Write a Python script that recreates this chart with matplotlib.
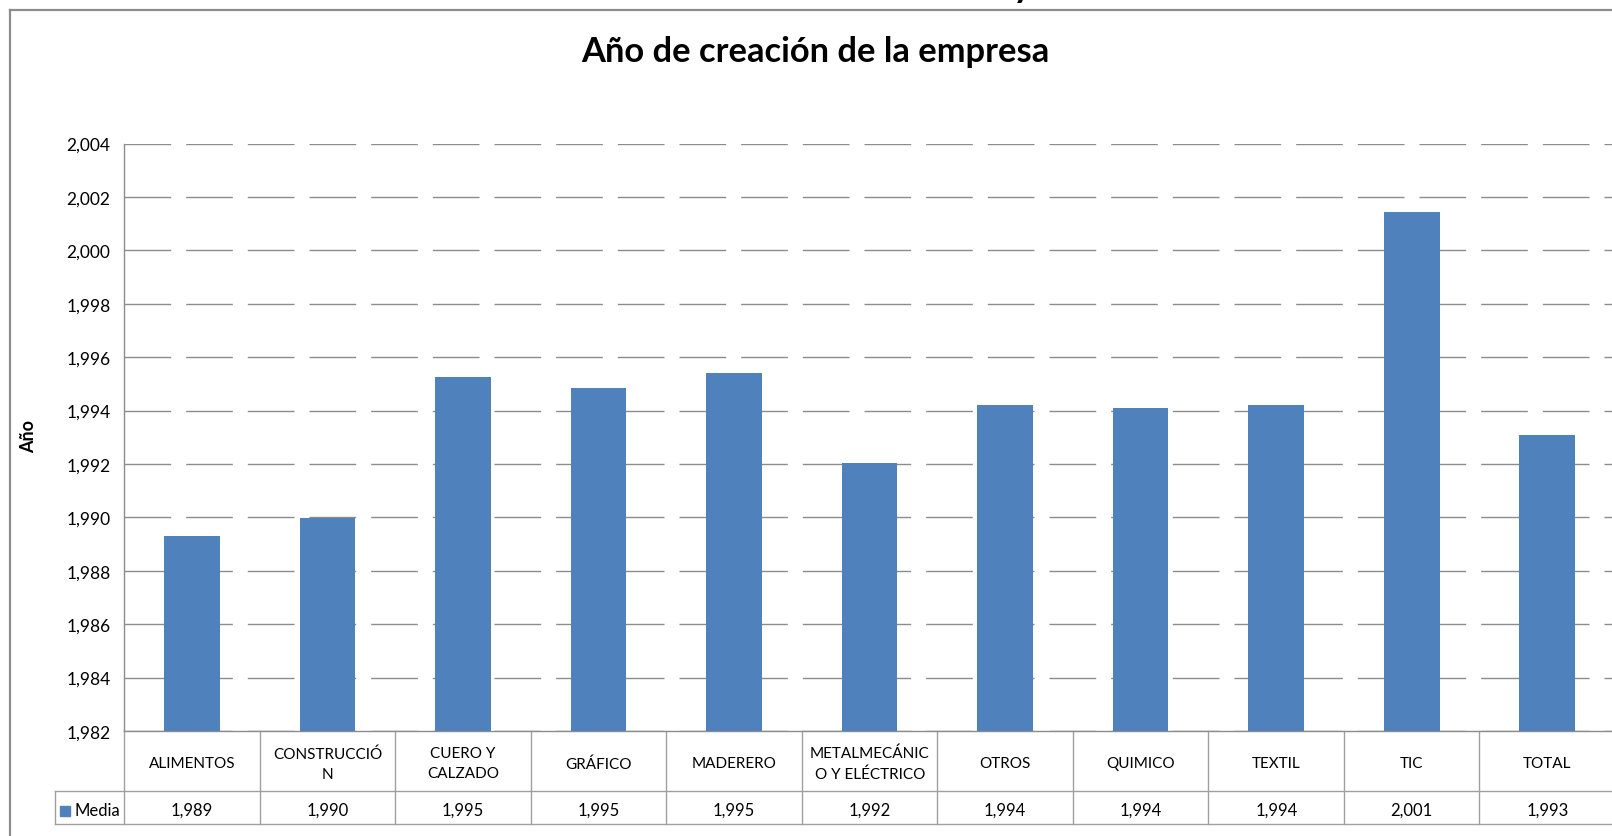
import matplotlib
matplotlib.use("Agg")
import matplotlib.pyplot as plt
import matplotlib.transforms as mtransforms
from matplotlib.lines import Line2D
from matplotlib.patches import Rectangle
from matplotlib.ticker import FuncFormatter, MultipleLocator

# valores
categorias = ["ALIMENTOS", "CONSTRUCCIÓ\nN", "CUERO Y\nCALZADO", "GRÁFICO", "MADERERO",
              "METALMECÁNIC\nO Y ELÉCTRICO", "OTROS", "QUIMICO", "TEXTIL", "TIC", "TOTAL"]
media = [1989.30, 1989.98, 1995.26, 1994.85, 1995.41, 1992.04,
         1994.19, 1994.11, 1994.22, 2001.44, 1993.10]
serie = "Media"
titulo = "Año de creación de la empresa"
etiqueta_y = "Año"
y_min, y_max, y_paso = 1982, 2004, 2

W, H = 1612, 837
AZUL = "#4F81BD"
GRIS = "#8c8c8c"

plt.rcParams["font.family"] = ["Lato", "DejaVu Sans"]
plt.rcParams["lines.scale_dashes"] = False

def fx(px):
    return px / W

def fy(py):
    return 1 - py / H

def miles(v, pos=None):
    return "{:,}".format(int(round(v)))

fig = plt.figure(figsize=(W / 100, H / 100), dpi=100)

# area de trazado (pixeles de la imagen)
left, right, top, bottom = 124.4, 1615.0, 144.5, 732.0
ax = fig.add_axes([fx(left), fy(bottom), fx(right - left), fy(top) - fy(bottom)])

x = list(range(len(categorias)))
ax.bar(x, [v - y_min for v in media], bottom=y_min, width=0.41, color=AZUL, zorder=3)

ax.set_xlim(-0.5, len(categorias) - 0.5)
ax.set_ylim(y_min, y_max)
ax.yaxis.set_major_locator(MultipleLocator(y_paso))
ax.yaxis.set_major_formatter(FuncFormatter(miles))
ax.yaxis.grid(True, color=GRIS, lw=1.0, linestyle=(0, (33.6, 10.8)), zorder=1)
ax.set_axisbelow(True)
ax.set_xticks([])
ax.tick_params(axis="y", length=0, pad=10, labelsize=12.5, colors="black")

for s in ["top", "right"]:
    ax.spines[s].set_visible(False)
for s in ["left", "bottom"]:
    ax.spines[s].set_color(GRIS)
    ax.spines[s].set_linewidth(1.0)

# tabla de datos bajo el eje
alto = bottom - top
r0 = 0.0
r1 = -(791.7 - bottom) / alto
r2 = -(825.3 - bottom) / alto
trans = mtransforms.blended_transform_factory(ax.transData, ax.transAxes)
leyenda_x = (54.7 - left) / (right - left)
# pequeno ajuste vertical del texto (Lato centra con el descendente)
baja = 2.5 / alto

for i in range(len(categorias) + 1):
    ax.add_line(Line2D([i - 0.5, i - 0.5], [r0, r2], transform=trans,
                       color="#a0a0a0", lw=1.0, clip_on=False))
for r in [r1, r2]:
    ax.add_line(Line2D([leyenda_x, 1.0], [r, r], transform=ax.transAxes,
                       color="#a0a0a0", lw=1.0, clip_on=False))
ax.add_line(Line2D([leyenda_x, leyenda_x], [r1, r2], transform=ax.transAxes,
                   color="#a0a0a0", lw=1.0, clip_on=False))

for i, (cat, v) in enumerate(zip(categorias, media)):
    ax.text(i, (r0 + r1) / 2 - baja, cat, transform=trans, ha="center", va="center",
            fontsize=11, linespacing=1.55, clip_on=False)
    ax.text(i, (r1 + r2) / 2 - baja, miles(v), transform=trans, ha="center", va="center",
            fontsize=12, clip_on=False)

# clave de la serie
fig.patches.append(Rectangle((fx(60), fy(816.7)), fx(10), fy(806.7) - fy(816.7),
                             transform=fig.transFigure, color=AZUL))
fig.text(fx(74), fy(811), serie, ha="left", va="center", fontsize=12)

# titulo y etiqueta del eje
fig.text(fx(815.5), fy(62.3), titulo, ha="center", va="baseline",
         fontsize=24.8, fontweight="bold")
fig.text(fx(29), fy(437), etiqueta_y, rotation=90, ha="center", va="center",
         fontsize=13, fontweight="bold")

# borde del area del grafico y resto de texto cortado arriba
fig.add_artist(Line2D([fx(9.5), fx(W)], [fy(11), fy(11)], color=GRIS, lw=1.6))
fig.add_artist(Line2D([fx(9.5), fx(9.5)], [fy(11), fy(H)], color=GRIS, lw=1.6))
fig.text(fx(1022), fy(-3), "y", ha="center", va="baseline", fontsize=26, fontweight="bold")

fig.savefig("out.png", dpi=100)
